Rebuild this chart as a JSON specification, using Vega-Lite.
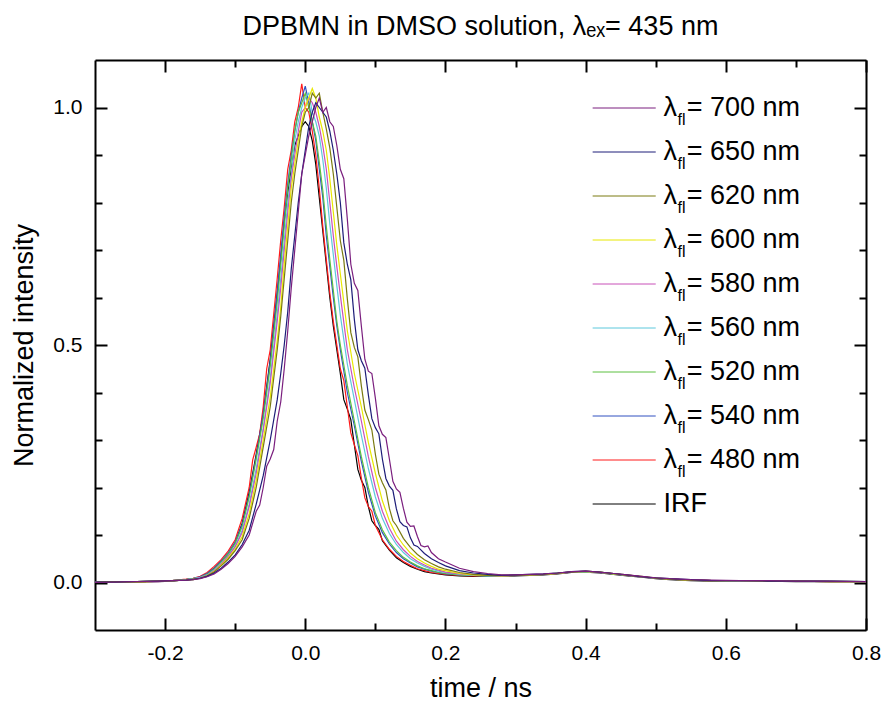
{
  "$schema": "https://vega.github.io/schema/vega-lite/v6.json",
  "width": 771,
  "height": 570,
  "autosize": {"type": "none"},
  "padding": {"left": 95, "top": 60, "right": 18, "bottom": 76},
  "config": {
    "view": {"stroke": null},
    "font": "Liberation Sans",
    "axis": {"grid": false, "domainColor": "black", "domainWidth": 2, "tickColor": "black", "tickWidth": 2, "labelColor": "black", "titleColor": "black", "labelFont": "Liberation Sans", "titleFont": "Liberation Sans", "titleFontWeight": "normal"}
  },
  "title": {"text": "DPBMN in DMSO solution, λₑₓ= 435 nm", "fontSize": 27, "fontWeight": "normal", "font": "Liberation Sans", "color": "black", "anchor": "middle", "offset": 18},
  "datasets": {
    "curves": [
      {"t":-0.30,"k":0.000,"r":0.001,"b":0.001,"g":0.000,"c":0.001,"m":0.001,"y":0.000,"o":0.001,"n":0.001,"p":0.000},
      {"t":-0.27,"k":0.001,"r":0.002,"b":0.001,"g":0.001,"c":0.000,"m":0.001,"y":0.001,"o":0.002,"n":0.001,"p":0.001},
      {"t":-0.24,"k":0.001,"r":0.002,"b":0.002,"g":0.002,"c":0.002,"m":0.002,"y":0.001,"o":0.002,"n":0.002,"p":0.002},
      {"t":-0.21,"k":0.002,"r":0.003,"b":0.003,"g":0.003,"c":0.003,"m":0.002,"y":0.003,"o":0.003,"n":0.003,"p":0.003},
      {"t":-0.19,"k":0.003,"r":0.004,"b":0.004,"g":0.004,"c":0.004,"m":0.004,"y":0.004,"o":0.004,"n":0.004,"p":0.004},
      {"t":-0.17,"k":0.006,"r":0.007,"b":0.006,"g":0.006,"c":0.006,"m":0.005,"y":0.005,"o":0.005,"n":0.005,"p":0.005},
      {"t":-0.16,"k":0.008,"r":0.009,"b":0.008,"g":0.008,"c":0.008,"m":0.007,"y":0.006,"o":0.007,"n":0.006,"p":0.006},
      {"t":-0.15,"k":0.011,"r":0.013,"b":0.012,"g":0.011,"c":0.011,"m":0.010,"y":0.009,"o":0.009,"n":0.009,"p":0.008},
      {"t":-0.14,"k":0.018,"r":0.021,"b":0.019,"g":0.017,"c":0.016,"m":0.015,"y":0.014,"o":0.014,"n":0.013,"p":0.012},
      {"t":-0.13,"k":0.030,"r":0.034,"b":0.030,"g":0.028,"c":0.026,"m":0.025,"y":0.023,"o":0.022,"n":0.020,"p":0.018},
      {"t":-0.12,"k":0.044,"r":0.048,"b":0.045,"g":0.043,"c":0.040,"m":0.039,"y":0.037,"o":0.035,"n":0.030,"p":0.028},
      {"t":-0.11,"k":0.060,"r":0.066,"b":0.062,"g":0.060,"c":0.056,"m":0.055,"y":0.052,"o":0.049,"n":0.043,"p":0.040},
      {"t":-0.10,"k":0.083,"r":0.090,"b":0.085,"g":0.082,"c":0.077,"m":0.075,"y":0.070,"o":0.067,"n":0.058,"p":0.055},
      {"t":-0.09,"k":0.125,"r":0.135,"b":0.122,"g":0.118,"c":0.110,"m":0.105,"y":0.097,"o":0.090,"n":0.080,"p":0.075},
      {"t":-0.08,"k":0.19,"r":0.20,"b":0.185,"g":0.18,"c":0.165,"m":0.16,"y":0.145,"o":0.135,"n":0.11,"p":0.10},
      {"t":-0.075,"r":0.258},
      {"t":-0.07,"k":0.27,"r":0.285,"b":0.265,"g":0.26,"c":0.24,"m":0.23,"y":0.215,"o":0.20,"n":0.165,"p":0.15},
      {"t":-0.065,"r":0.313,"p":0.163},
      {"t":-0.06,"k":0.355,"r":0.37,"b":0.355,"g":0.345,"c":0.325,"m":0.32,"y":0.30,"o":0.285,"n":0.225,"p":0.20},
      {"t":-0.055,"r":0.45,"p":0.245},
      {"t":-0.05,"k":0.47,"r":0.49,"b":0.465,"g":0.455,"c":0.43,"m":0.42,"y":0.39,"o":0.37,"n":0.30,"p":0.26},
      {"t":-0.045,"p":0.28},
      {"t":-0.04,"k":0.61,"r":0.64,"b":0.61,"g":0.59,"c":0.565,"m":0.55,"y":0.51,"o":0.49,"n":0.385,"p":0.34},
      {"t":-0.035,"k":0.68,"r":0.72,"b":0.69,"g":0.67,"c":0.64,"m":0.62,"y":0.58,"o":0.56,"n":0.44,"p":0.38},
      {"t":-0.03,"k":0.76,"r":0.79,"b":0.77,"g":0.75,"c":0.72,"m":0.70,"y":0.67,"o":0.64,"n":0.50,"p":0.45},
      {"t":-0.025,"k":0.82,"r":0.87,"b":0.84,"g":0.83,"c":0.80,"m":0.78,"y":0.75,"o":0.72,"n":0.57,"p":0.53},
      {"t":-0.02,"k":0.87,"r":0.91,"b":0.90,"g":0.89,"c":0.86,"m":0.85,"y":0.83,"o":0.80,"n":0.66,"p":0.62},
      {"t":-0.015,"k":0.92,"r":0.97,"b":0.95,"g":0.95,"c":0.93,"m":0.90,"y":0.88,"o":0.86,"n":0.73,"p":0.70},
      {"t":-0.01,"k":0.94,"r":1.00,"b":0.99,"g":0.99,"c":0.97,"m":0.95,"y":0.93,"o":0.91,"n":0.80,"p":0.78},
      {"t":-0.005,"k":0.96,"r":1.05,"b":1.02,"g":1.01,"c":1.00,"m":0.99,"y":0.97,"o":0.96,"n":0.86,"p":0.86},
      {"t":0.0,"k":0.97,"r":1.00,"b":1.045,"g":1.03,"c":1.02,"m":1.00,"y":1.00,"o":0.99,"n":0.91,"p":0.90},
      {"t":0.005,"k":0.96,"r":0.99,"b":1.01,"g":1.00,"c":1.03,"m":1.02,"y":1.02,"o":1.00,"n":0.96,"p":0.94},
      {"t":0.01,"k":0.93,"r":0.95,"b":0.97,"g":0.97,"c":0.99,"m":1.01,"y":1.04,"o":1.03,"n":0.99,"p":0.97},
      {"t":0.015,"k":0.88,"r":0.90,"b":0.93,"g":0.94,"c":0.97,"m":0.99,"y":1.02,"o":1.02,"n":1.01,"p":1.00},
      {"t":0.02,"k":0.81,"r":0.83,"b":0.87,"g":0.885,"c":0.94,"m":0.96,"y":0.98,"o":1.03,"n":1.00,"p":1.02},
      {"t":0.025,"k":0.74,"r":0.75,"b":0.81,"g":0.825,"c":0.89,"m":0.92,"y":0.95,"o":0.99,"n":0.99,"p":0.99},
      {"t":0.03,"k":0.67,"r":0.68,"b":0.73,"g":0.75,"c":0.83,"m":0.87,"y":0.91,"o":0.955,"n":0.98,"p":1.00},
      {"t":0.035,"k":0.60,"r":0.61,"b":0.665,"g":0.68,"c":0.755,"m":0.80,"y":0.85,"o":0.915,"n":0.95,"p":0.97},
      {"t":0.04,"k":0.54,"r":0.55,"b":0.60,"g":0.615,"c":0.69,"m":0.73,"y":0.78,"o":0.86,"n":0.91,"p":0.96},
      {"t":0.045,"k":0.49,"r":0.50,"b":0.54,"g":0.55,"c":0.625,"m":0.665,"y":0.71,"o":0.79,"n":0.86,"p":0.92},
      {"t":0.05,"k":0.44,"r":0.45,"b":0.49,"g":0.50,"c":0.563,"m":0.605,"y":0.65,"o":0.72,"n":0.80,"p":0.87},
      {"t":0.055,"k":0.385,"r":0.425,"o":0.678,"n":0.715,"p":0.85},
      {"t":0.06,"k":0.365,"r":0.37,"b":0.40,"g":0.415,"c":0.46,"m":0.49,"y":0.53,"o":0.597,"n":0.67,"p":0.765},
      {"t":0.065,"k":0.343,"r":0.315,"o":0.526,"n":0.637,"p":0.67},
      {"t":0.07,"k":0.29,"r":0.29,"b":0.33,"g":0.34,"c":0.385,"m":0.41,"y":0.44,"o":0.495,"n":0.554,"p":0.63},
      {"t":0.075,"k":0.238,"r":0.267,"o":0.475,"n":0.49,"p":0.615},
      {"t":0.08,"k":0.215,"r":0.22,"b":0.255,"g":0.265,"c":0.31,"m":0.34,"y":0.37,"o":0.414,"n":0.467,"p":0.54},
      {"t":0.085,"k":0.20,"r":0.178,"o":0.363,"n":0.451,"p":0.47},
      {"t":0.09,"k":0.16,"r":0.16,"b":0.19,"g":0.20,"c":0.24,"m":0.265,"y":0.295,"o":0.343,"n":0.395,"p":0.445},
      {"t":0.095,"k":0.13,"r":0.15,"o":0.321,"n":0.345,"p":0.44},
      {"t":0.10,"k":0.12,"r":0.12,"b":0.14,"g":0.147,"c":0.18,"m":0.20,"y":0.23,"o":0.27,"n":0.326,"p":0.388},
      {"t":0.105,"k":0.112,"o":0.228,"n":0.313,"p":0.33},
      {"t":0.11,"k":0.088,"r":0.09,"b":0.105,"g":0.111,"c":0.135,"m":0.15,"y":0.172,"o":0.21,"n":0.26,"p":0.312},
      {"t":0.115,"o":0.195,"n":0.219,"p":0.305},
      {"t":0.12,"k":0.068,"r":0.07,"b":0.081,"g":0.085,"c":0.103,"m":0.114,"y":0.13,"o":0.156,"n":0.203,"p":0.26},
      {"t":0.125,"o":0.13,"n":0.194,"p":0.213},
      {"t":0.13,"k":0.052,"r":0.055,"b":0.063,"g":0.067,"c":0.08,"m":0.087,"y":0.10,"o":0.12,"n":0.155,"p":0.197},
      {"t":0.135,"n":0.128,"p":0.19},
      {"t":0.14,"k":0.042,"r":0.044,"b":0.05,"g":0.053,"c":0.063,"m":0.069,"y":0.079,"o":0.093,"n":0.12,"p":0.156},
      {"t":0.145,"n":0.117,"p":0.127},
      {"t":0.15,"k":0.034,"r":0.036,"b":0.041,"g":0.043,"c":0.05,"m":0.055,"y":0.062,"o":0.074,"n":0.094,"p":0.118},
      {"t":0.155,"n":0.079,"p":0.119},
      {"t":0.16,"k":0.028,"r":0.029,"b":0.033,"g":0.035,"c":0.041,"m":0.044,"y":0.05,"o":0.059,"n":0.076,"p":0.097},
      {"t":0.165,"p":0.078},
      {"t":0.17,"k":0.023,"r":0.025,"b":0.028,"g":0.029,"c":0.034,"m":0.037,"y":0.041,"o":0.048,"n":0.061,"p":0.075},
      {"t":0.175,"p":0.077},
      {"t":0.18,"k":0.020,"r":0.021,"b":0.024,"g":0.025,"c":0.028,"m":0.030,"y":0.034,"o":0.040,"n":0.050,"p":0.063},
      {"t":0.19,"k":0.018,"r":0.019,"b":0.021,"g":0.021,"c":0.024,"m":0.026,"y":0.028,"o":0.033,"n":0.042,"p":0.050},
      {"t":0.20,"k":0.016,"r":0.017,"b":0.018,"g":0.019,"c":0.021,"m":0.022,"y":0.025,"o":0.028,"n":0.035,"p":0.043},
      {"t":0.22,"k":0.014,"r":0.015,"b":0.016,"g":0.016,"c":0.017,"m":0.018,"y":0.019,"o":0.021,"n":0.025,"p":0.030},
      {"t":0.24,"k":0.013,"r":0.014,"b":0.015,"g":0.015,"c":0.015,"m":0.016,"y":0.016,"o":0.017,"n":0.020,"p":0.023},
      {"t":0.26,"k":0.013,"r":0.014,"b":0.014,"g":0.014,"c":0.014,"m":0.015,"y":0.015,"o":0.015,"n":0.017,"p":0.019},
      {"t":0.28,"k":0.013,"r":0.014,"b":0.014,"g":0.014,"c":0.014,"m":0.014,"y":0.014,"o":0.015,"n":0.015,"p":0.016},
      {"t":0.30,"k":0.014,"r":0.015,"b":0.015,"g":0.015,"c":0.015,"m":0.015,"y":0.015,"o":0.015,"n":0.016,"p":0.016},
      {"t":0.32,"k":0.015,"r":0.016,"b":0.016,"g":0.016,"c":0.016,"m":0.016,"y":0.016,"o":0.016,"n":0.017,"p":0.017},
      {"t":0.34,"k":0.016,"r":0.017,"b":0.017,"g":0.017,"c":0.017,"m":0.017,"y":0.017,"o":0.017,"n":0.018,"p":0.018},
      {"t":0.36,"k":0.018,"r":0.019,"b":0.019,"g":0.019,"c":0.020,"m":0.019,"y":0.019,"o":0.020,"n":0.020,"p":0.020},
      {"t":0.38,"k":0.021,"r":0.022,"b":0.022,"g":0.022,"c":0.022,"m":0.022,"y":0.023,"o":0.022,"n":0.023,"p":0.023},
      {"t":0.40,"k":0.022,"r":0.023,"b":0.023,"g":0.023,"c":0.023,"m":0.024,"y":0.023,"o":0.024,"n":0.024,"p":0.024},
      {"t":0.42,"k":0.020,"r":0.021,"b":0.021,"g":0.022,"c":0.021,"m":0.021,"y":0.022,"o":0.022,"n":0.022,"p":0.022},
      {"t":0.44,"k":0.017,"r":0.018,"b":0.018,"g":0.018,"c":0.018,"m":0.019,"y":0.018,"o":0.019,"n":0.019,"p":0.019},
      {"t":0.46,"k":0.014,"r":0.015,"b":0.015,"g":0.015,"c":0.015,"m":0.015,"y":0.016,"o":0.015,"n":0.016,"p":0.016},
      {"t":0.48,"k":0.011,"r":0.012,"b":0.012,"g":0.012,"c":0.012,"m":0.012,"y":0.012,"o":0.013,"n":0.012,"p":0.013},
      {"t":0.50,"k":0.008,"r":0.009,"b":0.009,"g":0.009,"c":0.009,"m":0.009,"y":0.010,"o":0.009,"n":0.010,"p":0.010},
      {"t":0.52,"k":0.006,"r":0.007,"b":0.007,"g":0.007,"c":0.007,"m":0.007,"y":0.007,"o":0.007,"n":0.008,"p":0.008},
      {"t":0.55,"k":0.004,"r":0.005,"b":0.005,"g":0.005,"c":0.005,"m":0.005,"y":0.005,"o":0.005,"n":0.006,"p":0.006},
      {"t":0.58,"k":0.003,"r":0.004,"b":0.004,"g":0.004,"c":0.004,"m":0.004,"y":0.004,"o":0.004,"n":0.004,"p":0.005},
      {"t":0.62,"k":0.003,"r":0.004,"b":0.003,"g":0.004,"c":0.003,"m":0.004,"y":0.004,"o":0.004,"n":0.004,"p":0.004},
      {"t":0.66,"k":0.003,"r":0.003,"b":0.003,"g":0.003,"c":0.003,"m":0.003,"y":0.003,"o":0.003,"n":0.003,"p":0.004},
      {"t":0.70,"k":0.002,"r":0.003,"b":0.003,"g":0.003,"c":0.003,"m":0.003,"y":0.003,"o":0.003,"n":0.003,"p":0.003},
      {"t":0.75,"k":0.002,"r":0.002,"b":0.002,"g":0.003,"c":0.002,"m":0.002,"y":0.002,"o":0.002,"n":0.003,"p":0.003},
      {"t":0.80,"k":0.002,"r":0.002,"b":0.002,"g":0.002,"c":0.002,"m":0.002,"y":0.002,"o":0.002,"n":0.002,"p":0.002}
    ],
    "leg": [
      {"key":"p","a":"λ","s":"fl","e":"= 700 nm"},
      {"key":"n","a":"λ","s":"fl","e":"= 650 nm"},
      {"key":"o","a":"λ","s":"fl","e":"= 620 nm"},
      {"key":"y","a":"λ","s":"fl","e":"= 600 nm"},
      {"key":"m","a":"λ","s":"fl","e":"= 580 nm"},
      {"key":"c","a":"λ","s":"fl","e":"= 560 nm"},
      {"key":"g","a":"λ","s":"fl","e":"= 520 nm"},
      {"key":"b","a":"λ","s":"fl","e":"= 540 nm"},
      {"key":"r","a":"λ","s":"fl","e":"= 480 nm"},
      {"key":"k","a":"IRF","s":"","e":""}
    ]
  },
  "layer": [
    {
      "data": {"name": "curves"},
      "transform": [{"fold": ["k","r","b","g","c","m","y","o","n","p"], "as": ["key","v"]}, {"filter": "isValid(datum.v)"}],
      "mark": {"type": "line", "strokeWidth": 1.2, "clip": true},
      "encoding": {
        "x": {"field": "t", "type": "quantitative",
          "scale": {"domain": [-0.3, 0.8], "nice": false, "zero": false},
          "axis": {"orient": "bottom", "values": [-0.2,-0.1,0,0.1,0.2,0.3,0.4,0.5,0.6,0.7,0.8],
            "labelExpr": "abs(round(datum.value*10))%2==0 ? replace(format(datum.value,'.1f'),'−','-') : ''",
            "tickSize": {"condition": {"test": "abs(round(datum.value*10))%2==0", "value": -12}, "value": -7},
            "labelFontSize": 21, "labelPadding": 24, "labelFlush": false,
            "title": "time / ns", "titleFontSize": 27, "titlePadding": 12}},
        "y": {"field": "v", "type": "quantitative",
          "scale": {"domain": [-0.1, 1.1], "nice": false, "zero": false},
          "axis": {"orient": "left", "values": [0,0.1,0.2,0.3,0.4,0.5,0.6,0.7,0.8,0.9,1.0],
            "labelExpr": "abs(round(datum.value*10))%5==0 ? format(datum.value,'.1f') : ''",
            "tickSize": {"condition": {"test": "abs(round(datum.value*10))%5==0", "value": -12}, "value": -7},
            "labelFontSize": 21, "labelPadding": 25,
            "title": "Normalized intensity", "titleFontSize": 27, "titlePadding": 14}},
        "color": {"field": "key", "type": "nominal",
          "scale": {"domain": ["p","n","o","y","m","c","g","b","r","k"],
            "range": ["#7a1e7e","#1c1c78","#7a7a10","#e8e800","#c850b8","#5cc8dc","#5cc040","#3050c0","#ff1a1a","#000000"]},
          "legend": null}
      }
    },
    {
      "data": {"name": "curves"},
      "mark": {"type": "point", "opacity": 0},
      "encoding": {
        "x": {"field": "t", "type": "quantitative",
          "scale": {"domain": [-0.3, 0.8], "nice": false, "zero": false},
          "axis": {"orient": "top", "values": [-0.2,-0.1,0,0.1,0.2,0.3,0.4,0.5,0.6,0.7,0.8], "labels": false, "title": null,
            "tickSize": {"condition": {"test": "abs(round(datum.value*10))%2==0", "value": -12}, "value": -7}}},
        "y": {"field": "k", "type": "quantitative",
          "scale": {"domain": [-0.1, 1.1], "nice": false, "zero": false},
          "axis": {"orient": "right", "values": [0,0.1,0.2,0.3,0.4,0.5,0.6,0.7,0.8,0.9,1.0], "labels": false, "title": null,
            "tickSize": {"condition": {"test": "abs(round(datum.value*10))%5==0", "value": -12}, "value": -7}}}
      }
    },
    {
      "data": {"name": "leg"},
      "encoding": {
        "y": {"field": "key", "type": "ordinal", "axis": null,
          "scale": {"type": "point", "domain": ["p","n","o","y","m","c","g","b","r","k"], "range": [48, 444], "padding": 0}}
      },
      "layer": [
        {"mark": {"type": "rule", "strokeWidth": 1},
         "encoding": {"x": {"datum": 0.41, "type": "quantitative", "axis": null}, "x2": {"datum": 0.50},
           "color": {"field": "key", "type": "nominal", "legend": null}}},
        {"mark": {"type": "text", "align": "left", "baseline": "middle", "fontSize": 27, "color": "black"},
         "encoding": {"x": {"datum": 0.511, "type": "quantitative", "axis": null}, "text": {"field": "a"}}},
        {"mark": {"type": "text", "align": "left", "baseline": "middle", "fontSize": 16, "dy": 12, "color": "black"},
         "encoding": {"x": {"datum": 0.531, "type": "quantitative", "axis": null}, "text": {"field": "s"}}},
        {"mark": {"type": "text", "align": "left", "baseline": "middle", "fontSize": 27, "color": "black"},
         "encoding": {"x": {"datum": 0.5443, "type": "quantitative", "axis": null}, "text": {"field": "e"}}}
      ]
    }
  ],
  "resolve": {"scale": {"y": "independent"}, "axis": {"x": "independent", "y": "independent"}}
}
